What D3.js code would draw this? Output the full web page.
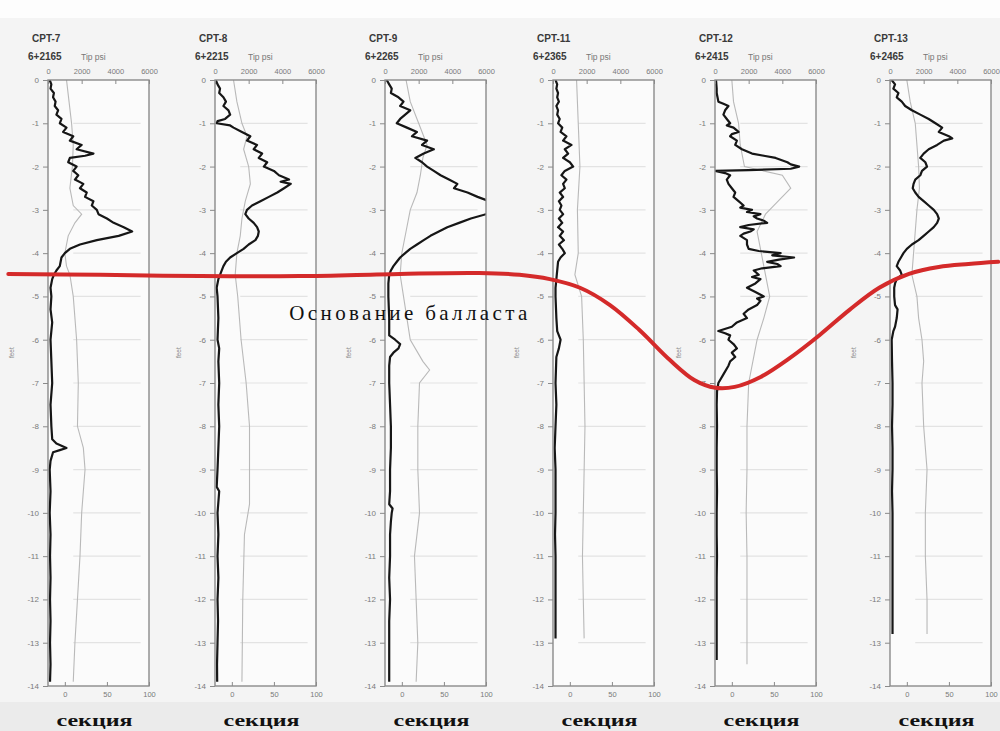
<!DOCTYPE html>
<html><head><meta charset="utf-8">
<script src="https://cdn.jsdelivr.net/npm/d3@7"></script>
<style>body{margin:0;background:#f5f5f5}svg{display:block}</style>
</head><body>
<script>
// ---------- data ----------
const categories = ["CPT-7","CPT-8","CPT-9","CPT-11","CPT-12","CPT-13"];
const stations = ["6+2165","6+2215","6+2265","6+2365","6+2415","6+2465"];
const tipUnit = "Tip psi";
const sectionLabel = "секция";
const annotationText = "Основание балласта";
const tipTicks = [0,2000,4000,6000];
const ratioTicks = [0,50,100];
const depthTicks = [0,-1,-2,-3,-4,-5,-6,-7,-8,-9,-10,-11,-12,-13,-14];
const depthLabel = "feet";

// tip resistance [depth, psi]
const tip7 = [[0,100],[-0.1,200],[-0.2,150],[-0.3,350],[-0.4,300],[-0.5,450],[-0.6,400],[-0.7,600],[-0.8,500],[-0.9,800],[-1.0,700],[-1.1,1100],[-1.2,900],[-1.3,1500],[-1.4,1300],[-1.5,2000],[-1.6,1700],[-1.7,2700],[-1.75,2200],[-1.8,1300],[-1.9,1200],[-2.0,1700],[-2.1,1500],[-2.2,1800],[-2.3,1600],[-2.4,2100],[-2.5,1900],[-2.6,2300],[-2.7,2200],[-2.8,2700],[-2.9,2600],[-3.0,2900],[-3.1,3000],[-3.2,3500],[-3.3,3900],[-3.4,4500],[-3.5,5000],[-3.6,4200],[-3.7,2900],[-3.8,1900],[-3.9,1300],[-4.0,1000],[-4.1,800],[-4.2,750],[-4.3,700],[-4.4,500],[-4.5,350],[-4.6,250],[-4.8,150],[-5.0,200],[-5.3,150],[-5.6,250],[-6.0,150],[-6.5,200],[-7.0,250],[-7.5,150],[-8.0,200],[-8.3,250],[-8.4,500],[-8.5,1100],[-8.55,700],[-8.6,300],[-8.8,150],[-9.0,100],[-9.5,150],[-10,100],[-10.5,150],[-11,120],[-11.5,150],[-12,120],[-12.5,150],[-13,120],[-13.5,150],[-13.9,120]];
const tip8 = [[0,50],[-0.1,150],[-0.2,300],[-0.3,250],[-0.4,500],[-0.5,650],[-0.6,500],[-0.7,800],[-0.8,900],[-0.9,600],[-0.95,150],[-1.0,100],[-1.05,900],[-1.1,1100],[-1.2,1600],[-1.3,2100],[-1.4,1900],[-1.5,2500],[-1.6,2300],[-1.7,2800],[-1.8,2600],[-1.9,3100],[-2.0,2900],[-2.1,3500],[-2.2,3800],[-2.3,4400],[-2.35,3900],[-2.4,4500],[-2.5,4100],[-2.6,3700],[-2.7,3200],[-2.8,2700],[-2.9,2200],[-3.0,1900],[-3.1,1800],[-3.2,2000],[-3.3,2300],[-3.4,2500],[-3.5,2600],[-3.6,2550],[-3.7,2400],[-3.8,2000],[-3.9,1700],[-4.0,1300],[-4.1,900],[-4.2,650],[-4.3,500],[-4.4,400],[-4.5,300],[-4.6,200],[-4.8,100],[-5.0,150],[-5.5,200],[-6.0,150],[-6.2,250],[-6.5,200],[-7,250],[-7.5,200],[-8,250],[-8.5,200],[-9,150],[-9.4,100],[-9.5,250],[-10,150],[-10.5,200],[-11,150],[-11.5,200],[-12,150],[-12.5,180],[-13,150],[-13.5,120],[-13.9,130]];
const tip9 = [[0,100],[-0.1,250],[-0.2,400],[-0.3,350],[-0.4,800],[-0.5,1100],[-0.6,900],[-0.7,1500],[-0.8,1200],[-0.9,900],[-1.0,700],[-1.1,1300],[-1.2,1900],[-1.3,1600],[-1.4,2500],[-1.5,2200],[-1.6,2900],[-1.7,2300],[-1.8,1800],[-1.9,2200],[-2.0,2500],[-2.1,2900],[-2.2,3300],[-2.3,3800],[-2.4,4300],[-2.5,4100],[-2.6,4900],[-2.7,5500],[-2.8,6200],[-2.9,7000],[-3.0,6600],[-3.1,6000],[-3.2,5100],[-3.3,4400],[-3.4,3700],[-3.5,3200],[-3.6,2700],[-3.7,2300],[-3.8,1900],[-3.9,1500],[-4.0,1200],[-4.1,900],[-4.2,700],[-4.3,500],[-4.4,350],[-4.5,250],[-4.7,200],[-5.0,200],[-5.5,250],[-5.9,250],[-6.0,600],[-6.1,900],[-6.2,800],[-6.3,500],[-6.4,300],[-6.6,250],[-7,250],[-7.5,300],[-8,350],[-8.5,350],[-9,300],[-9.5,300],[-9.8,250],[-9.9,450],[-10,400],[-10.2,350],[-10.5,300],[-11,300],[-11.5,250],[-12,300],[-12.5,250],[-13,250],[-13.5,250],[-13.9,250]];
const tip11 = [[0,150],[-0.1,250],[-0.2,200],[-0.3,300],[-0.4,250],[-0.5,350],[-0.6,200],[-0.7,300],[-0.8,250],[-0.9,400],[-1.0,300],[-1.1,550],[-1.2,450],[-1.3,800],[-1.4,600],[-1.5,1100],[-1.6,700],[-1.7,900],[-1.8,600],[-1.9,1000],[-2.0,1200],[-2.1,700],[-2.2,500],[-2.3,800],[-2.4,600],[-2.5,700],[-2.6,400],[-2.7,600],[-2.8,350],[-2.9,500],[-3.0,400],[-3.1,600],[-3.2,350],[-3.3,550],[-3.4,300],[-3.5,600],[-3.6,400],[-3.7,650],[-3.8,350],[-3.9,550],[-4.0,700],[-4.1,450],[-4.2,300],[-4.4,250],[-4.6,200],[-4.8,150],[-5.0,150],[-5.5,200],[-5.8,250],[-6.0,450],[-6.2,350],[-6.4,200],[-7,150],[-7.5,200],[-8,150],[-8.5,100],[-9,150],[-9.5,150],[-10,150],[-10.5,120],[-11,150],[-11.5,150],[-12,150],[-12.5,150],[-12.9,150]];
const tip12 = [[0,60],[-0.1,80],[-0.2,100],[-0.3,100],[-0.4,150],[-0.5,200],[-0.55,500],[-0.6,800],[-0.7,600],[-0.8,500],[-0.9,700],[-1.0,900],[-1.05,700],[-1.1,1100],[-1.2,1400],[-1.25,1000],[-1.3,900],[-1.4,1300],[-1.5,1200],[-1.6,1600],[-1.7,2200],[-1.75,2900],[-1.8,3600],[-1.9,4300],[-1.95,4500],[-2.0,5000],[-2.05,4500],[-2.08,2000],[-2.1,0],[-2.15,600],[-2.2,900],[-2.3,700],[-2.4,800],[-2.5,1000],[-2.6,1200],[-2.7,1100],[-2.8,1400],[-2.9,1700],[-2.95,1500],[-3.0,2200],[-3.05,1900],[-3.1,2700],[-3.15,2300],[-3.2,2500],[-3.25,2900],[-3.3,3100],[-3.35,2000],[-3.4,1500],[-3.45,2300],[-3.5,2100],[-3.55,1700],[-3.6,1500],[-3.7,1900],[-3.8,1900],[-3.9,2000],[-3.95,2600],[-4.0,3900],[-4.05,3400],[-4.1,4700],[-4.15,3800],[-4.2,3100],[-4.25,3700],[-4.3,3900],[-4.35,2800],[-4.4,2300],[-4.5,2600],[-4.55,2200],[-4.6,2700],[-4.7,2400],[-4.8,1900],[-4.9,2400],[-5.0,2900],[-5.05,2500],[-5.1,2700],[-5.2,2500],[-5.3,2000],[-5.4,1700],[-5.5,1900],[-5.6,1300],[-5.7,1000],[-5.8,200],[-5.85,600],[-5.9,900],[-6.0,800],[-6.1,1100],[-6.2,1300],[-6.3,1000],[-6.4,1200],[-6.5,900],[-6.6,800],[-6.8,500],[-7.0,200],[-7.2,120],[-7.5,100],[-8,120],[-8.5,100],[-9,100],[-9.5,120],[-10,100],[-10.5,100],[-11,120],[-11.5,100],[-12,100],[-12.5,100],[-13,100],[-13.4,100]];
const tip13 = [[0,100],[-0.1,300],[-0.2,200],[-0.3,500],[-0.4,400],[-0.5,700],[-0.6,900],[-0.7,1300],[-0.8,1800],[-0.9,2300],[-1.0,2700],[-1.1,3100],[-1.2,2900],[-1.3,3500],[-1.35,3700],[-1.4,3200],[-1.5,2800],[-1.6,2300],[-1.7,2000],[-1.8,1800],[-1.9,2100],[-2.0,2200],[-2.1,1900],[-2.2,1800],[-2.3,1500],[-2.4,1400],[-2.5,1350],[-2.6,1500],[-2.7,1700],[-2.8,2000],[-2.9,2300],[-3.0,2600],[-3.1,2800],[-3.2,2900],[-3.3,2800],[-3.4,2600],[-3.5,2300],[-3.6,2000],[-3.7,1700],[-3.8,1300],[-3.9,1000],[-4.0,800],[-4.1,650],[-4.2,500],[-4.3,400],[-4.4,600],[-4.5,700],[-4.6,400],[-4.7,300],[-4.8,250],[-5.0,250],[-5.2,300],[-5.3,450],[-5.5,400],[-5.7,300],[-5.8,200],[-6.0,100],[-6.5,120],[-7,150],[-7.5,150],[-8,120],[-8.5,150],[-9,150],[-9.5,120],[-10,150],[-10.5,150],[-11,150],[-11.5,150],[-12,150],[-12.5,150],[-12.8,150]];

// friction ratio (grey trace) [depth, %]
const fr7 = [[0,2],[-0.5,5],[-1,8],[-1.5,10],[-2,9],[-2.5,6],[-2.9,10],[-3.1,20],[-3.3,12],[-3.6,4],[-4,0],[-4.3,2],[-4.5,6],[-5,10],[-6,14],[-7,16],[-8,15],[-8.5,22],[-9,24],[-10,20],[-11,18],[-12,15],[-13,12],[-13.9,10]];
const fr8 = [[0,2],[-0.5,6],[-1,12],[-1.3,18],[-1.6,14],[-2,20],[-2.4,22],[-2.8,16],[-3.2,12],[-3.6,10],[-4,6],[-4.5,4],[-5,7],[-6,11],[-7,17],[-8,21],[-9,21],[-9.8,21],[-10.5,15],[-12,13],[-13.9,12]];
const fr9 = [[0,5],[-0.5,10],[-1,20],[-1.5,30],[-1.8,25],[-2.2,22],[-2.6,18],[-3,10],[-3.5,5],[-4,0],[-4.5,-2],[-5,2],[-5.5,6],[-6,10],[-6.5,25],[-6.7,33],[-7,21],[-8,19],[-9,19],[-10,21],[-11,15],[-12,17],[-13,19],[-13.9,17]];
const fr11 = [[0,8],[-1,10],[-2,12],[-3,9],[-4,10],[-4.5,6],[-5,14],[-6,16],[-7,17],[-8,18],[-9,17],[-10,16],[-11,15],[-12,16],[-12.9,17]];
const fr12 = [[0,0],[-0.5,2],[-1,8],[-1.5,10],[-2,15],[-2.2,60],[-2.5,70],[-2.8,55],[-3.1,40],[-3.5,30],[-4,35],[-4.5,40],[-5,45],[-5.5,38],[-6,30],[-6.5,25],[-7,20],[-8,18],[-9,18],[-10,17],[-11,18],[-12,18],[-13,18],[-13.5,18]];
const fr13 = [[0,0],[-0.5,4],[-1,10],[-1.5,12],[-2,14],[-2.5,15],[-3,12],[-3.5,10],[-4,8],[-4.5,6],[-5,12],[-5.5,14],[-6,18],[-6.5,20],[-7,18],[-8,20],[-9,24],[-10,22],[-11,22],[-12,24],[-12.8,24]];

const tipSeries = [tip7, tip8, tip9, tip11, tip12, tip13];
const frSeries = [fr7, fr8, fr9, fr11, fr12, fr13];

// ballast base line: [position along section (panel index), depth]
const ballastPos = [-0.54,0.01,0.61,1.20,1.79,2.26,2.50,2.68,2.86,3.04,3.22,3.41,3.56,3.69,3.81,3.97,4.14,4.31,4.48,4.65,4.82,4.99,5.16,5.33];
const ballastDepth = [-4.48,-4.50,-4.53,-4.53,-4.48,-4.46,-4.50,-4.60,-4.80,-5.20,-5.77,-6.47,-6.93,-7.11,-7.09,-6.86,-6.42,-5.89,-5.31,-4.80,-4.48,-4.32,-4.25,-4.20];
const annotationPos = [1.14, -5.54];

// ---------- layout ----------
const W = 1000, H = 731;
const panelLeft = [48, 215, 385, 553, 715, 890];
const panelW = 101;
const yTop = 80, yBot = 686;

const svg = d3.select("body").append("svg").attr("width", W).attr("height", H);
svg.append("rect").attr("width", W).attr("height", H).attr("fill", "#f4f4f4");
svg.append("rect").attr("width", W).attr("height", 18).attr("fill", "#fdfdfd");
svg.append("rect").attr("y", 702).attr("width", W).attr("height", H - 702).attr("fill", "#ebebeb");

const y = d3.scaleLinear().domain([0, -14]).range([yTop, yBot]);
const centers = panelLeft.map(l => l + panelW / 2);
const sx = d3.scaleLinear().domain(d3.range(categories.length)).range(centers);

const axisFont = "Liberation Sans, Arial, sans-serif";

categories.forEach((name, i) => {
  const g = svg.append("g").attr("transform", `translate(${panelLeft[i]},0)`);
  const x = d3.scaleLinear().domain([0, 6000]).range([0, panelW]);
  const xr = d3.scaleLinear().domain([-20, 100]).range([0, panelW]);

  g.append("rect").attr("x", 0).attr("y", yTop).attr("width", panelW).attr("height", yBot - yTop).attr("fill", "#fbfbfb");

  // faint horizontal lines
  g.selectAll("line.grid").data(depthTicks.slice(1, -1)).join("line")
    .attr("x1", xr(10)).attr("x2", xr(90))
    .attr("y1", d => y(d)).attr("y2", d => y(d))
    .attr("stroke", "#e3e3e3").attr("stroke-width", 1.2);

  const clipId = "clip" + i;
  g.append("clipPath").attr("id", clipId).append("rect")
    .attr("x", 0).attr("y", yTop).attr("width", panelW).attr("height", yBot - yTop);

  const cg = g.append("g").attr("clip-path", `url(#${clipId})`);
  cg.append("path").datum(frSeries[i])
    .attr("d", d3.line().x(d => xr(d[1])).y(d => y(d[0])))
    .attr("fill", "none").attr("stroke", "#b9b9b9").attr("stroke-width", 1.1);
  cg.append("path").datum(tipSeries[i])
    .attr("d", d3.line().x(d => x(d[1])).y(d => y(d[0])))
    .attr("fill", "none").attr("stroke", "#161616").attr("stroke-width", 2.2)
    .attr("stroke-linejoin", "round");

  g.append("rect").attr("x", 0).attr("y", yTop).attr("width", panelW).attr("height", yBot - yTop)
    .attr("fill", "none").attr("stroke", "#8a8a8a").attr("stroke-width", 1.4);

  const styleAxis = sel => {
    sel.select(".domain").remove();
    sel.selectAll("line").attr("stroke", "#8a8a8a");
    sel.selectAll("text").attr("fill", "#7a7a7a").attr("font-size", 7.5).attr("font-family", axisFont);
  };
  g.append("g").attr("transform", `translate(0,${yTop})`)
    .call(d3.axisTop(x).tickValues(tipTicks).tickSize(-4).tickPadding(6).tickFormat(d3.format("d")))
    .call(styleAxis);
  g.append("g").attr("transform", `translate(0,${yBot})`)
    .call(d3.axisBottom(xr).tickValues(ratioTicks).tickSize(-4).tickPadding(6).tickFormat(d3.format("d")))
    .call(styleAxis);
  g.append("g")
    .call(d3.axisLeft(y).tickValues(depthTicks).tickSize(5).tickPadding(4).tickFormat(d => String(d)))
    .call(styleAxis)
    .selectAll("text").attr("font-size", 8);

  g.append("text").attr("transform", `translate(-34,${y(-6.3)}) rotate(-90)`)
    .attr("text-anchor", "middle").attr("font-size", 6.5).attr("fill", "#888")
    .attr("font-family", axisFont).text(depthLabel);

  g.append("text").attr("x", -16).attr("y", 42).attr("font-size", 10).attr("font-weight", "bold")
    .attr("fill", "#3a3a3a").attr("font-family", axisFont).text(name);
  g.append("text").attr("x", -20).attr("y", 60).attr("font-size", 10).attr("font-weight", "bold")
    .attr("fill", "#3a3a3a").attr("font-family", axisFont).text(stations[i]);
  g.append("text").attr("x", 33).attr("y", 60).attr("font-size", 8.5)
    .attr("fill", "#777").attr("font-family", axisFont).text(tipUnit);

  svg.append("text").attr("x", sx(i) - 4).attr("y", 726).attr("text-anchor", "middle")
    .attr("font-size", 17).attr("font-weight", "bold").attr("fill", "#111")
    .attr("font-family", "Liberation Serif, Times New Roman, serif")
    .attr("textLength", 76).attr("lengthAdjust", "spacingAndGlyphs").text(sectionLabel);
});

// ballast base line
const ballast = ballastPos.map((p, k) => [p, ballastDepth[k]]);
svg.append("path").datum(ballast)
  .attr("d", d3.line().x(d => sx(d[0])).y(d => y(d[1])).curve(d3.curveCatmullRom))
  .attr("fill", "none").attr("stroke", "#d42a2a").attr("stroke-width", 4).attr("stroke-linecap", "round");

svg.append("text").attr("x", sx(annotationPos[0])).attr("y", y(annotationPos[1]))
  .attr("font-size", 21).attr("fill", "#111")
  .attr("font-family", "Liberation Serif, Times New Roman, serif")
  .attr("textLength", 238).attr("lengthAdjust", "spacing").text(annotationText);
</script>
</body></html>
